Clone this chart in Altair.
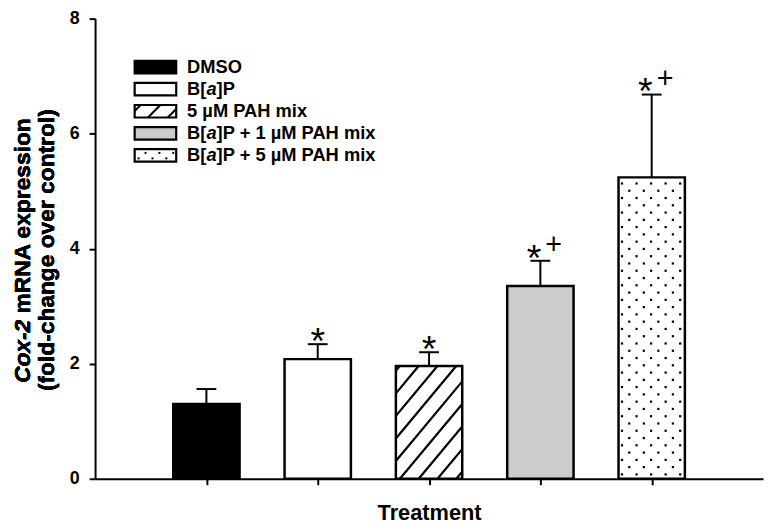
import altair as alt
import pandas as pd

# ---------------- data ----------------
groups = ["DMSO", "B[a]P", "5 µM PAH mix", "B[a]P + 1 µM PAH mix", "B[a]P + 5 µM PAH mix"]
means = [1.30, 2.08, 1.96, 3.35, 5.24]
sems = [0.26, 0.26, 0.24, 0.44, 1.44]
stars = ["", "*", "*", "*", "*"]
pluses = ["", "", "", "+", "+"]
fills = ["black", "white", "white", "#cccccc", "white"]
patterns = ["none", "none", "hatch", "none", "dots"]
y_ticks = [0, 2, 4, 6, 8]
x_title = "Treatment"
y_title_1a = "Cox-2"
y_title_1b = "mRNA expression"
y_title_2 = "(fold-change over control)"
# legend label pieces: (before italic, italic, after italic)
legend_pieces = [
    ("DMSO", "", ""),
    ("B[", "a", "]P"),
    ("5 µM PAH mix", "", ""),
    ("B[", "a", "]P + 1 µM PAH mix"),
    ("B[", "a", "]P + 5 µM PAH mix"),
]

# ---------------- layout ----------------
W, H = 675, 465
X_DOM = [0, 6]
Y_DOM = [0, 8]
SX = W / (X_DOM[1] - X_DOM[0])
SY = H / (Y_DOM[1] - Y_DOM[0])
HALF = 0.298
CAP = 0.089
FONT = "Liberation Sans"

xs = alt.Scale(domain=X_DOM, nice=False, zero=False)
ys = alt.Scale(domain=Y_DOM, nice=False, zero=False)

idx = list(range(1, len(groups) + 1))
bars = pd.DataFrame({
    "group": groups,
    "i": idx,
    "x0": [i - HALF for i in idx],
    "x1": [i + HALF for i in idx],
    "mean": means,
    "upper": [m + s for m, s in zip(means, sems)],
    "cap0": [i - CAP for i in idx],
    "cap1": [i + CAP for i in idx],
    "fill": fills,
    "zero": [0.0] * len(idx),
})


def hatch_segments(x0, x1, y0, y1, step=19.0, slope=1.2, phase=4.0):
    segs = []
    hgt = y1 - y0
    c = x0 - hgt / slope + phase
    while c < x1:
        xa = max(x0, c)
        xb = min(x1, c + hgt / slope)
        if xb - xa > 0.5:
            segs.append((xa, y0 + slope * (xa - c), xb, y0 + slope * (xb - c)))
        c += step
    return segs


def dot_points(x0, x1, y0, y1, dx=14.7, dy=7.35, inset=3.5):
    pts = []
    k = 0
    y = y0 + dy * 0.6
    while y < y1 - 2:
        x = x0 + inset + (k % 2) * dx / 2
        while x < x1 - 2:
            pts.append((x, y))
            x += dx
        y += dy
        k += 1
    return pts


# pattern textures, derived from the bars through the scale factors
hatch_rows, dot_rows = [], []
for i, m, p in zip(idx, means, patterns):
    px0, px1 = (i - HALF) * SX, (i + HALF) * SX
    py1 = m * SY
    if p == "hatch":
        for a, b, c, d in hatch_segments(px0, px1, 0, py1):
            hatch_rows.append({"xa": a / SX, "ya": b / SY, "xb": c / SX, "yb": d / SY})
    elif p == "dots":
        for a, b in dot_points(px0, px1, 0, py1):
            dot_rows.append({"x": a / SX, "y": b / SY})

# legend geometry (pixels relative to plot, y measured up from the x axis)
LEG_X0, LEG_X1 = 40, 82
LEG_ROW0, LEG_DROW = 416, 22.3
LEG_H = 6.3
LEG_TX = 93
LEG_FS = 18.5
leg_rows, leg_text_n, leg_text_i = [], [], []
leg_hatch, leg_dots = [], []
for r, (g, f, p, pieces) in enumerate(zip(groups, fills, patterns, legend_pieces)):
    yc = LEG_ROW0 - r * LEG_DROW
    leg_rows.append({"x0": LEG_X0 / SX, "x1": LEG_X1 / SX, "y0": (yc - LEG_H) / SY,
                     "y1": (yc + LEG_H) / SY, "fill": f})
    if p == "hatch":
        for a, b, c, d in hatch_segments(LEG_X0, LEG_X1, yc - LEG_H, yc + LEG_H, step=20, slope=1.0, phase=6):
            leg_hatch.append({"xa": a / SX, "ya": b / SY, "xb": c / SX, "yb": d / SY})
    elif p == "dots":
        for a, b in dot_points(LEG_X0, LEG_X1, yc - LEG_H, yc + LEG_H, dx=14, dy=5.5, inset=4):
            leg_dots.append({"x": a / SX, "y": b / SY})
    pre, ital, post = pieces
    w_pre = (0.722 + 0.333) * LEG_FS if pre == "B[" else 0
    w_it = 0.556 * LEG_FS if ital else 0
    leg_text_n.append({"x": LEG_TX / SX, "y": yc / SY, "t": pre})
    if ital:
        leg_text_i.append({"x": (LEG_TX + w_pre) / SX, "y": yc / SY, "t": ital})
        leg_text_n.append({"x": (LEG_TX + w_pre + w_it) / SX, "y": yc / SY, "t": post})

hatch_df = pd.DataFrame(hatch_rows)
dots_df = pd.DataFrame(dot_rows)
leg_df = pd.DataFrame(leg_rows)
leg_hatch_df = pd.DataFrame(leg_hatch)
leg_dots_df = pd.DataFrame(leg_dots)
legn_df = pd.DataFrame(leg_text_n)
legi_df = pd.DataFrame(leg_text_i)

star_df = pd.DataFrame({
    "x": [i + (-6.5 / SX if pl else 0) for i, pl in zip(idx, pluses)],
    "upper": bars["upper"], "t": stars,
})
star_df = star_df[star_df["t"] != ""]
plus_df = pd.DataFrame({"x": [i + 13.5 / SX for i in idx], "upper": bars["upper"], "t": pluses})
plus_df = plus_df[plus_df["t"] != ""]

# ---------------- layers ----------------
x_axis = alt.Axis(values=idx, labels=False, tickSize=6, tickWidth=2, domainWidth=2,
                  domainColor="black", tickColor="black", title=x_title,
                  titleFont=FONT, titleFontSize=22, titleFontWeight="bold",
                  titleColor="black", titlePadding=17, grid=False)
y_axis = alt.Axis(values=y_ticks, format="d", tickSize=6, tickWidth=2, domainWidth=2,
                  domainColor="black", tickColor="black", labelFont=FONT,
                  labelFontSize=18, labelFontWeight="bold", labelColor="black",
                  labelPadding=10, title=None, grid=False)

base = alt.Chart(bars)
X = lambda f: alt.X(f, scale=xs)
Y = lambda f: alt.Y(f, scale=ys)

bar_fill = base.mark_bar(strokeWidth=0).encode(
    x=alt.X("x0:Q", scale=xs, axis=x_axis),
    x2="x1:Q",
    y=alt.Y("mean:Q", scale=ys, axis=y_axis),
    y2="zero:Q",
    fill=alt.Fill("fill:N", scale=None),
)


def rules(df, width):
    return alt.Chart(df).mark_rule(color="black", strokeWidth=width).encode(
        x=X("xa:Q"), y=Y("ya:Q"), x2="xb:Q", y2="yb:Q")


def squares(df, size):
    return alt.Chart(df).mark_square(color="black", size=size, opacity=1).encode(
        x=X("x:Q"), y=Y("y:Q"))


hatch = rules(hatch_df, 2.2)
dots = squares(dots_df, 5)

err = base.mark_rule(color="black", strokeWidth=2).encode(
    x=X("i:Q"), y=Y("mean:Q"), y2="upper:Q",
)
cap = base.mark_rule(color="black", strokeWidth=2).encode(
    x=X("cap0:Q"), x2="cap1:Q", y=Y("upper:Q"),
)
bar_outline = base.mark_bar(fill="white", fillOpacity=0, stroke="black", strokeWidth=2.5).encode(
    x=X("x0:Q"), x2="x1:Q", y=Y("mean:Q"), y2="zero:Q",
)

star_txt = alt.Chart(star_df).mark_text(font=FONT, fontSize=38, baseline="alphabetic",
                                        align="center", dy=10, color="black").encode(
    x=X("x:Q"), y=Y("upper:Q"), text="t:N",
)
plus_txt = alt.Chart(plus_df).mark_text(font=FONT, fontSize=29, baseline="alphabetic",
                                        align="center", dy=-7, color="black").encode(
    x=X("x:Q"), y=Y("upper:Q"), text="t:N",
)

leg_fill = alt.Chart(leg_df).mark_rect(strokeWidth=0).encode(
    x=X("x0:Q"), x2="x1:Q", y=Y("y0:Q"), y2="y1:Q",
    fill=alt.Fill("fill:N", scale=None),
)
leg_hatch_l = rules(leg_hatch_df, 2.0)
leg_dots_l = squares(leg_dots_df, 4)
leg_outline = alt.Chart(leg_df).mark_rect(fill="white", fillOpacity=0, stroke="black", strokeWidth=2.2).encode(
    x=X("x0:Q"), x2="x1:Q", y=Y("y0:Q"), y2="y1:Q",
)
leg_txt_n = alt.Chart(legn_df).mark_text(font=FONT, fontSize=LEG_FS, fontWeight="bold", align="left",
                                         baseline="middle", color="black").encode(
    x=X("x:Q"), y=Y("y:Q"), text="t:N",
)
leg_txt_i = alt.Chart(legi_df).mark_text(font=FONT, fontSize=LEG_FS, fontWeight="bold", fontStyle="italic",
                                         align="left", baseline="middle", color="black").encode(
    x=X("x:Q"), y=Y("y:Q"), text="t:N",
)

# y-axis title (two lines, "Cox-2" in italics)
YT_FS = 23
YT_CY = 234
L1_X, L2_X = -73, -49
w1a = 2.778 * YT_FS
w1b = 8.613 * YT_FS
space = 0.278 * YT_FS
bottom = YT_CY + (w1a + space + w1b) / 2
junction = bottom - w1a
yt1a = alt.Chart(bars).mark_text(font=FONT, fontSize=YT_FS, fontWeight="bold", fontStyle="italic",
                                 angle=270, align="right", baseline="middle", color="black").encode(
    x=alt.value(L1_X), y=alt.value(junction), text=alt.value(y_title_1a))
yt1b = alt.Chart(bars).mark_text(font=FONT, fontSize=YT_FS, fontWeight="bold",
                                 angle=270, align="left", baseline="middle", color="black").encode(
    x=alt.value(L1_X), y=alt.value(junction - space), text=alt.value(y_title_1b))
yt2 = alt.Chart(bars).mark_text(font=FONT, fontSize=YT_FS, fontWeight="bold",
                                angle=270, align="center", baseline="middle", color="black").encode(
    x=alt.value(L2_X), y=alt.value(YT_CY), text=alt.value(y_title_2))

chart = alt.layer(
    bar_fill, hatch, dots, err, bar_outline, cap, star_txt, plus_txt,
    leg_fill, leg_hatch_l, leg_dots_l, leg_outline, leg_txt_n, leg_txt_i, yt1a, yt1b, yt2,
).properties(
    width=W, height=H,
    padding={"left": 88, "top": 8, "right": 3, "bottom": 46},
    autosize=alt.AutoSizeParams(type="none"),
    background="white",
).configure_view(stroke=None)

chart.save("out.html", embed_options={"renderer": "svg", "actions": False})
